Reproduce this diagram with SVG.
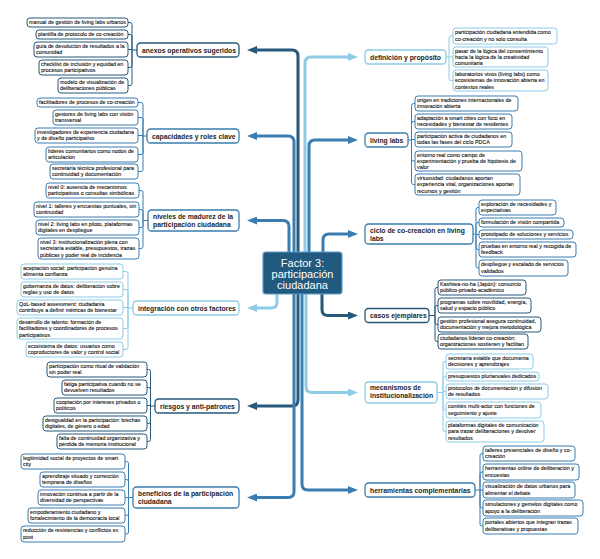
<svg xmlns="http://www.w3.org/2000/svg" width="600" height="559" viewBox="0 0 600 559">
<defs>
<style>
rect.n{fill:#fff;stroke-width:1}
rect.b{fill:#fff;stroke-width:1.3}
.d{stroke:#27587a}.m{stroke:#3b7db0}.l{stroke:#8dcbe6}
text{font-family:"Liberation Sans",Arial,sans-serif;fill:#111}
.t{font-size:5.35px;stroke:#111;stroke-width:0.1}
.bt{font-size:6.8px;font-weight:bold;fill:#1e1e1e}
.br{fill:none;stroke-width:1}
.tr{fill:none;stroke-width:3}
</style>
<marker id="ad" viewBox="0 0 10 8" refX="4" refY="4" markerWidth="10" markerHeight="8" markerUnits="userSpaceOnUse" orient="auto"><path d="M0,0L10,4L0,8z" fill="#27587a"/></marker>
<marker id="am" viewBox="0 0 10 8" refX="4" refY="4" markerWidth="10" markerHeight="8" markerUnits="userSpaceOnUse" orient="auto"><path d="M0,0L10,4L0,8z" fill="#3b7db0"/></marker>
<marker id="al" viewBox="0 0 10 8" refX="4" refY="4" markerWidth="10" markerHeight="8" markerUnits="userSpaceOnUse" orient="auto"><path d="M0,0L10,4L0,8z" fill="#8dcbe6"/></marker>
</defs>
<rect width="600" height="559" fill="#fff"/>
<g id="connectors">
<path class="tr d" d="M298,252V56Q298,50 292,50H253" marker-end="url(#ad)"/>
<path class="tr m" d="M294,252V142Q294,136 288,136H253" marker-end="url(#am)"/>
<path class="tr m" d="M289,252V226.5Q289,220.5 283,220.5H253" marker-end="url(#am)"/>
<path class="tr l" d="M277,294V302Q277,308 271,308H253" marker-end="url(#al)"/>
<path class="tr d" d="M298,294V400Q298,406 292,406H253" marker-end="url(#ad)"/>
<path class="tr m" d="M294,294V491.5Q294,497.5 288,497.5H253" marker-end="url(#am)"/>
<path class="tr l" d="M305,252V63Q305,57 311,57H352" marker-end="url(#al)"/>
<path class="tr m" d="M309,252V146Q309,140 315,140H352" marker-end="url(#am)"/>
<path class="tr m" d="M323,252V240Q323,234 329,234H352" marker-end="url(#am)"/>
<path class="tr d" d="M322,294V309.5Q322,315.5 328,315.5H352" marker-end="url(#ad)"/>
<path class="tr l" d="M306,294V386.5Q306,392.5 312,392.5H352" marker-end="url(#al)"/>
<path class="tr m" d="M302,294V484Q302,490 308,490H352" marker-end="url(#am)"/>
<path class="br d" d="M128,22.5H130Q132,22.5 132,24.5V50M128,34.5H130Q132,34.5 132,36.5V50M128,49.5H132M128,67.5H130Q132,67.5 132,65.5V50M128,85.5H130Q132,85.5 132,83.5V50M132,50H137"/>
<path class="br m" d="M138,102.5H141Q143,102.5 143,104.5V136M138,117.5H141Q143,117.5 143,119.5V136M138,135.5H143M138,154.5H141Q143,154.5 143,152.5V136M138,171.5H141Q143,171.5 143,169.5V136M143,136H147"/>
<path class="br m" d="M139,190.5H141Q143,190.5 143,192.5V220.5M139,209.5H141Q143,209.5 143,211.5V220.5M139,227.5H141Q143,227.5 143,225.5V220.5M139,248.5H141Q143,248.5 143,246.5V220.5M143,220.5H148"/>
<path class="br l" d="M123,271.5H126Q128,271.5 128,273.5V308M123,289.5H126Q128,289.5 128,291.5V308M123,307.5H128M123,328.5H126Q128,328.5 128,326.5V308M123,349.5H126Q128,349.5 128,347.5V308M128,308H133"/>
<path class="br d" d="M147,369.5H148.5Q150.5,369.5 150.5,371.5V406M147,387.5H148.5Q150.5,387.5 150.5,389.5V406M147,405.5H150.5M147,423.5H148.5Q150.5,423.5 150.5,421.5V406M147,441.5H148.5Q150.5,441.5 150.5,439.5V406M150.5,406H155"/>
<path class="br m" d="M125,461.5H126.5Q128.5,461.5 128.5,463.5V497.5M125,479.5H126.5Q128.5,479.5 128.5,481.5V497.5M125,497.5H128.5M125,515.5H126.5Q128.5,515.5 128.5,513.5V497.5M125,534H126.5Q128.5,534 128.5,532V497.5M128.5,497.5H133"/>
<path class="br l" d="M453,36H451Q449,36 449,38V57M453,57H446M453,80.5H451Q449,80.5 449,78.5V57"/>
<path class="br m" d="M415,103.5H413.5Q411.5,103.5 411.5,105.5V140M415,121.5H413.5Q411.5,121.5 411.5,123.5V140M415,139.5H411.5M415,161H413.5Q411.5,161 411.5,159V140M415,184.5H413.5Q411.5,184.5 411.5,182.5V140M408,140H411.5"/>
<path class="br m" d="M479,207.5H478Q476,207.5 476,209.5V234M479,222.5H478Q476,222.5 476,224.5V234M479,234.5H476M479,249.5H478Q476,249.5 476,247.5V234M479,268H478Q476,268 476,266V234M473,234H476"/>
<path class="br d" d="M438,287.5H437Q435,287.5 435,289.5V315.5M438,305.5H437Q435,305.5 435,307.5V315.5M438,324.5H437Q435,324.5 435,322.5V315.5M438,341.5H437Q435,341.5 435,339.5V315.5M429,315.5H435"/>
<path class="br l" d="M446,361.5H445Q443,361.5 443,363.5V392.5M446,376.5H445Q443,376.5 443,378.5V392.5M446,391.5H443M446,410H445Q443,410 443,408V392.5M446,431.5H445Q443,431.5 443,429.5V392.5M437,392.5H443"/>
<path class="br m" d="M483,453.5H482Q480,453.5 480,455.5V490M483,472H482Q480,472 480,474V490M483,490H480M483,508H482Q480,508 480,506V490M483,526H482Q480,526 480,524V490M475,490H480"/>
</g>
<g id="center">
<rect x="263" y="252" width="79" height="42" rx="3" fill="#22597f" stroke="#5b9bc7" stroke-width="1.2"/>
<text x="302.5" y="267" text-anchor="middle" style="font-size:11px;fill:#fff">Factor 3:</text>
<text x="302.5" y="278" text-anchor="middle" style="font-size:11px;fill:#fff">participación</text>
<text x="302.5" y="289" text-anchor="middle" style="font-size:11px;fill:#fff">ciudadana</text>
</g>
<g id="anexos"><rect class="b d" x="137" y="43" width="102" height="14" rx="3.5"/><text class="bt" x="142" y="52.5">anexos operativos sugeridos</text></g>
<g id="anexos-1"><rect class="n d" x="27" y="18" width="101" height="9" rx="3"/><text class="t" x="29" y="24.3">manual de gestión de living labs urbanos</text></g>
<g id="anexos-2"><rect class="n d" x="36" y="30" width="92" height="9" rx="3"/><text class="t" x="38" y="36.3">plantilla de protocolo de co-creación</text></g>
<g id="anexos-3"><rect class="n d" x="34" y="42" width="94" height="15" rx="3"/><text class="t" x="36" y="48"><tspan>guía de devolución de resultados a la</tspan><tspan x="36" dy="6.3">comunidad</tspan></text></g>
<g id="anexos-4"><rect class="n d" x="39" y="60" width="89" height="15" rx="3"/><text class="t" x="41" y="66"><tspan>checklist de inclusión y equidad en</tspan><tspan x="41" dy="6.3">procesos participativos</tspan></text></g>
<g id="anexos-5"><rect class="n d" x="58" y="78" width="70" height="15" rx="3"/><text class="t" x="60" y="84"><tspan>modelo de visualización de</tspan><tspan x="60" dy="6.3">deliberaciones públicas</tspan></text></g>
<g id="capacidades"><rect class="b m" x="147" y="129" width="92" height="14" rx="3.5"/><text class="bt" x="152" y="138.5">capacidades y roles clave</text></g>
<g id="cap-1"><rect class="n m" x="37" y="98" width="101" height="9" rx="3"/><text class="t" x="39" y="104.3">facilitadores de procesos de co-creación</text></g>
<g id="cap-2"><rect class="n m" x="53" y="110" width="85" height="15" rx="3"/><text class="t" x="55" y="116"><tspan>gestores de living labs con visión</tspan><tspan x="55" dy="6.3">transversal</tspan></text></g>
<g id="cap-3"><rect class="n m" x="35" y="128" width="103" height="15" rx="3"/><text class="t" x="37" y="134"><tspan>investigadores de experiencia ciudadana</tspan><tspan x="37" dy="6.3">y de diseño participativo</tspan></text></g>
<g id="cap-4"><rect class="n m" x="46" y="147" width="92" height="15" rx="3"/><text class="t" x="48" y="153"><tspan>líderes comunitarios como nodos de</tspan><tspan x="48" dy="6.3">articulación</tspan></text></g>
<g id="cap-5"><rect class="n m" x="50" y="164" width="88" height="15" rx="3"/><text class="t" x="52" y="170"><tspan>secretaría técnica profesional para</tspan><tspan x="52" dy="6.3">continuidad y documentación</tspan></text></g>
<g id="niveles"><rect class="b m" x="148" y="210" width="91" height="21" rx="3.5"/><text class="bt" x="153" y="218.5"><tspan>niveles de madurez de la</tspan><tspan x="153" dy="8">participación ciudadana</tspan></text></g>
<g id="niv-1"><rect class="n m" x="46" y="183" width="93" height="15" rx="3"/><text class="t" x="48" y="189"><tspan>nivel 0: ausencia de mecanismos</tspan><tspan x="48" dy="6.3">participativos o consultas simbólicas</tspan></text></g>
<g id="niv-2"><rect class="n m" x="34" y="202" width="105" height="15" rx="3"/><text class="t" x="36" y="208"><tspan>nivel 1: talleres y encuestas puntuales, sin</tspan><tspan x="36" dy="6.3">continuidad</tspan></text></g>
<g id="niv-3"><rect class="n m" x="36" y="220" width="103" height="15" rx="3"/><text class="t" x="38" y="226"><tspan>nivel 2: living labs en piloto, plataformas</tspan><tspan x="38" dy="6.3">digitales en despliegue</tspan></text></g>
<g id="niv-4"><rect class="n m" x="38" y="238" width="101" height="21" rx="3"/><text class="t" x="40" y="244"><tspan>nivel 3: institucionalización plena con</tspan><tspan x="40" dy="6.3">secretaría estable, presupuestos, trazas</tspan><tspan x="40" dy="6.3">públicas y poder real de incidencia</tspan></text></g>
<g id="integracion"><rect class="b l" x="133" y="301" width="106" height="14" rx="3.5"/><text class="bt" x="138" y="310.5">integración con otros factores</text></g>
<g id="int-1"><rect class="n l" x="21" y="264" width="102" height="15" rx="3"/><text class="t" x="23" y="270"><tspan>aceptación social: participación genuina</tspan><tspan x="23" dy="6.3">alimenta confianza</tspan></text></g>
<g id="int-2"><rect class="n l" x="21" y="282" width="102" height="15" rx="3"/><text class="t" x="23" y="288"><tspan>gobernanza de datos: deliberación sobre</tspan><tspan x="23" dy="6.3">reglas y uso de datos</tspan></text></g>
<g id="int-3"><rect class="n l" x="17" y="300" width="106" height="15" rx="3"/><text class="t" x="19" y="306"><tspan>QoL-based assessment: ciudadanía</tspan><tspan x="19" dy="6.3">contribuye a definir métricas de bienestar</tspan></text></g>
<g id="int-4"><rect class="n l" x="17" y="318" width="106" height="21" rx="3"/><text class="t" x="19" y="324"><tspan>desarrollo de talento: formación de</tspan><tspan x="19" dy="6.3">facilitadores y coordinadores de procesos</tspan><tspan x="19" dy="6.3">participativos</tspan></text></g>
<g id="int-5"><rect class="n l" x="26" y="342" width="97" height="15" rx="3"/><text class="t" x="28" y="348"><tspan>ecosistema de datos: usuarios como</tspan><tspan x="28" dy="6.3">coproductores de valor y control social</tspan></text></g>
<g id="riesgos"><rect class="b d" x="155" y="399" width="84" height="14" rx="3.5"/><text class="bt" x="160" y="408.5">riesgos y anti-patrones</text></g>
<g id="rie-1"><rect class="n d" x="47" y="362" width="100" height="15" rx="3"/><text class="t" x="49" y="368"><tspan>participación como ritual de validación</tspan><tspan x="49" dy="6.3">sin poder real</tspan></text></g>
<g id="rie-2"><rect class="n d" x="62" y="380" width="85" height="15" rx="3"/><text class="t" x="64" y="386"><tspan>fatiga participativa cuando no se</tspan><tspan x="64" dy="6.3">devuelven resultados</tspan></text></g>
<g id="rie-3"><rect class="n d" x="54" y="398" width="93" height="15" rx="3"/><text class="t" x="56" y="404"><tspan>cooptación por intereses privados o</tspan><tspan x="56" dy="6.3">políticos</tspan></text></g>
<g id="rie-4"><rect class="n d" x="43" y="416" width="104" height="15" rx="3"/><text class="t" x="45" y="422"><tspan>desigualdad en la participación: brechas</tspan><tspan x="45" dy="6.3">digitales, de género o edad</tspan></text></g>
<g id="rie-5"><rect class="n d" x="57" y="434" width="90" height="15" rx="3"/><text class="t" x="59" y="440"><tspan>falta de continuidad organizativa y</tspan><tspan x="59" dy="6.3">pérdida de memoria institucional</tspan></text></g>
<g id="beneficios"><rect class="b m" x="133" y="487" width="106" height="21" rx="3.5"/><text class="bt" x="138" y="495.5"><tspan>beneficios de la participación</tspan><tspan x="138" dy="8">ciudadana</tspan></text></g>
<g id="ben-1"><rect class="n m" x="21" y="454" width="104" height="15" rx="3"/><text class="t" x="23" y="460"><tspan>legitimidad social de proyectos de smart</tspan><tspan x="23" dy="6.3">city</tspan></text></g>
<g id="ben-2"><rect class="n m" x="40" y="472" width="85" height="15" rx="3"/><text class="t" x="42" y="478"><tspan>aprendizaje situado y corrección</tspan><tspan x="42" dy="6.3">temprana de diseños</tspan></text></g>
<g id="ben-3"><rect class="n m" x="38" y="490" width="87" height="15" rx="3"/><text class="t" x="40" y="496"><tspan>innovación continua a partir de la</tspan><tspan x="40" dy="6.3">diversidad de perspectivas</tspan></text></g>
<g id="ben-4"><rect class="n m" x="28" y="508" width="97" height="15" rx="3"/><text class="t" x="30" y="514"><tspan>empoderamiento ciudadano y</tspan><tspan x="30" dy="6.3">fortalecimiento de la democracia local</tspan></text></g>
<g id="ben-5"><rect class="n m" x="21" y="526" width="104" height="16" rx="3"/><text class="t" x="23" y="532.3"><tspan>reducción de resistencias y conflictos ex</tspan><tspan x="23" dy="6.3">post</tspan></text></g>
<g id="definicion"><rect class="b l" x="365" y="50" width="81" height="14" rx="3.5"/><text class="bt" x="370" y="59.5">definición y propósito</text></g>
<g id="def-1"><rect class="n l" x="453" y="28" width="104" height="16" rx="3"/><text class="t" x="455" y="34.3"><tspan>participación ciudadana entendida como</tspan><tspan x="455" dy="6.3">co-creación y no solo consulta</tspan></text></g>
<g id="def-2"><rect class="n l" x="453" y="47" width="95" height="20" rx="3"/><text class="t" x="455" y="52.8"><tspan>pasar de la lógica del consentimiento</tspan><tspan x="455" dy="6.1">hacia la lógica de la creatividad</tspan><tspan x="455" dy="6.1">comunitaria</tspan></text></g>
<g id="def-3"><rect class="n l" x="453" y="70" width="95" height="21" rx="3"/><text class="t" x="455" y="76"><tspan>laboratorios vivos (living labs) como</tspan><tspan x="455" dy="6.3">ecosistemas de innovación abierta en</tspan><tspan x="455" dy="6.3">contextos reales</tspan></text></g>
<g id="livinglabs"><rect class="b m" x="365" y="133" width="43" height="14" rx="3.5"/><text class="bt" x="370" y="142.5">living labs</text></g>
<g id="ll-1"><rect class="n m" x="415" y="96" width="103" height="15" rx="3"/><text class="t" x="417" y="102"><tspan>origen en tradiciones internacionales de</tspan><tspan x="417" dy="6.3">innovación abierta</tspan></text></g>
<g id="ll-2"><rect class="n m" x="415" y="114" width="97" height="15" rx="3"/><text class="t" x="417" y="120"><tspan>adaptación a smart cities con foco en</tspan><tspan x="417" dy="6.3">necesidades y bienestar de residentes</tspan></text></g>
<g id="ll-3"><rect class="n m" x="415" y="132" width="97" height="15" rx="3"/><text class="t" x="417" y="138"><tspan>participación activa de ciudadanos en</tspan><tspan x="417" dy="6.3">todas las fases del ciclo PDCA</tspan></text></g>
<g id="ll-4"><rect class="n m" x="415" y="151" width="107" height="20" rx="3"/><text class="t" x="417" y="156.8"><tspan>entorno real como campo de</tspan><tspan x="417" dy="6.1">experimentación y prueba de hipótesis de</tspan><tspan x="417" dy="6.1">valor</tspan></text></g>
<g id="ll-5"><rect class="n m" x="415" y="174" width="105" height="21" rx="3"/><text class="t" x="417" y="180"><tspan>virtuosidad: ciudadanos aportan</tspan><tspan x="417" dy="6.3">experiencia vital, organizaciones aportan</tspan><tspan x="417" dy="6.3">recursos y gestión</tspan></text></g>
<g id="ciclo"><rect class="b m" x="365" y="224" width="108" height="20" rx="3.5"/><text class="bt" x="370" y="232.5"><tspan>ciclo de co-creación en living</tspan><tspan x="370" dy="8">labs</tspan></text></g>
<g id="cic-1"><rect class="n m" x="479" y="200" width="77" height="15" rx="3"/><text class="t" x="481" y="206"><tspan>exploración de necesidades y</tspan><tspan x="481" dy="6.3">expectativas</tspan></text></g>
<g id="cic-2"><rect class="n m" x="479" y="218" width="85" height="9" rx="3"/><text class="t" x="481" y="224.3">formulación de visión compartida</text></g>
<g id="cic-3"><rect class="n m" x="479" y="230" width="94" height="9" rx="3"/><text class="t" x="481" y="236.3">prototipado de soluciones y servicios</text></g>
<g id="cic-4"><rect class="n m" x="479" y="242" width="97" height="15" rx="3"/><text class="t" x="481" y="248"><tspan>pruebas en entorno real y recogida de</tspan><tspan x="481" dy="6.3">feedback</tspan></text></g>
<g id="cic-5"><rect class="n m" x="479" y="260" width="89" height="16" rx="3"/><text class="t" x="481" y="266.3"><tspan>despliegue y escalado de servicios</tspan><tspan x="481" dy="6.3">validados</tspan></text></g>
<g id="casos"><rect class="b d" x="365" y="308.5" width="64" height="14" rx="3.5"/><text class="bt" x="370" y="318">casos ejemplares</text></g>
<g id="cas-1"><rect class="n d" x="438" y="280" width="88" height="15" rx="3"/><text class="t" x="440" y="286"><tspan>Kashiwa-no-ha (Japón): consorcio</tspan><tspan x="440" dy="6.3">público-privado-académico</tspan></text></g>
<g id="cas-2"><rect class="n d" x="438" y="298" width="93" height="15" rx="3"/><text class="t" x="440" y="304"><tspan>programas sobre movilidad, energía,</tspan><tspan x="440" dy="6.3">salud y espacio público</tspan></text></g>
<g id="cas-3"><rect class="n d" x="438" y="317" width="103" height="15" rx="3"/><text class="t" x="440" y="323"><tspan>gestión profesional asegura continuidad,</tspan><tspan x="440" dy="6.3">documentación y mejora metodológica</tspan></text></g>
<g id="cas-4"><rect class="n d" x="438" y="334" width="90" height="15" rx="3"/><text class="t" x="440" y="340"><tspan>ciudadanos lideran co-creación;</tspan><tspan x="440" dy="6.3">organizaciones sostienen y facilitan</tspan></text></g>
<g id="mecanismos"><rect class="b l" x="365" y="382" width="72" height="21" rx="3.5"/><text class="bt" x="370" y="390"><tspan>mecanismos de</tspan><tspan x="370" dy="8">institucionalización</tspan></text></g>
<g id="mec-1"><rect class="n l" x="446" y="354" width="87" height="15" rx="3"/><text class="t" x="448" y="360"><tspan>secretaría estable que documenta</tspan><tspan x="448" dy="6.3">decisiones y aprendizajes</tspan></text></g>
<g id="mec-2"><rect class="n l" x="446" y="372" width="93" height="9" rx="3"/><text class="t" x="448" y="378.3">presupuestos plurianuales dedicados</text></g>
<g id="mec-3"><rect class="n l" x="446" y="384" width="102" height="15" rx="3"/><text class="t" x="448" y="390"><tspan>protocolos de documentación y difusión</tspan><tspan x="448" dy="6.3">de resultados</tspan></text></g>
<g id="mec-4"><rect class="n l" x="446" y="402" width="95" height="16" rx="3"/><text class="t" x="448" y="408.3"><tspan>comités multi-actor con funciones de</tspan><tspan x="448" dy="6.3">seguimiento y ajuste</tspan></text></g>
<g id="mec-5"><rect class="n l" x="446" y="421" width="98" height="21" rx="3"/><text class="t" x="448" y="427"><tspan>plataformas digitales de comunicación</tspan><tspan x="448" dy="6.3">para trazar deliberaciones y devolver</tspan><tspan x="448" dy="6.3">resultados</tspan></text></g>
<g id="herramientas"><rect class="b m" x="365" y="483" width="110" height="14" rx="3.5"/><text class="bt" x="370" y="492.5">herramientas complementarias</text></g>
<g id="her-1"><rect class="n m" x="483" y="446" width="92" height="15" rx="3"/><text class="t" x="485" y="452"><tspan>talleres presenciales de diseño y co-</tspan><tspan x="485" dy="6.3">creación</tspan></text></g>
<g id="her-2"><rect class="n m" x="483" y="464" width="96" height="16" rx="3"/><text class="t" x="485" y="470.3"><tspan>herramientas online de deliberación y</tspan><tspan x="485" dy="6.3">encuestas</tspan></text></g>
<g id="her-3"><rect class="n m" x="483" y="482" width="92" height="16" rx="3"/><text class="t" x="485" y="488.3"><tspan>visualización de datos urbanos para</tspan><tspan x="485" dy="6.3">alimentar el debate</tspan></text></g>
<g id="her-4"><rect class="n m" x="483" y="500" width="100" height="16" rx="3"/><text class="t" x="485" y="506.3"><tspan>simulaciones y gemelos digitales como</tspan><tspan x="485" dy="6.3">apoyo a la deliberación</tspan></text></g>
<g id="her-5"><rect class="n m" x="483" y="518" width="95" height="16" rx="3"/><text class="t" x="485" y="524.3"><tspan>portales abiertos que integran trazas</tspan><tspan x="485" dy="6.3">deliberativas y propuestas</tspan></text></g>
</svg>
